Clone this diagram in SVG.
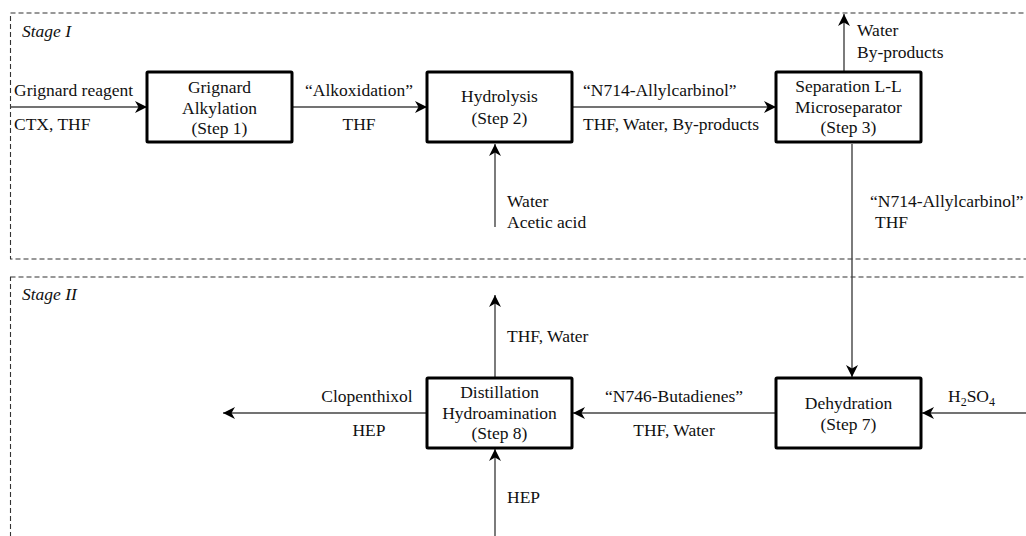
<svg xmlns="http://www.w3.org/2000/svg" width="1026" height="536" viewBox="0 0 1026 536">
  <style>
    text { font-family: "Liberation Serif", "Times New Roman", serif; font-size: 17.5px; fill: #111; }
    .stage { font-style: italic; }
    .mid { text-anchor: middle; }
    .frame { fill: none; stroke: #333; stroke-width: 1.1; stroke-dasharray: 5 3; }
    .box { fill: #fff; stroke: #000; stroke-width: 3; }
    .flow { fill: none; stroke: #444; stroke-width: 1.4; marker-end: url(#arrow); }
  </style>
  <defs>
    <marker id="arrow" markerUnits="userSpaceOnUse" markerWidth="16" markerHeight="14" viewBox="-13 -7 14 14" refX="0" refY="0" orient="auto">
      <path d="M0,0 L-12,-6 L-8.5,0 L-12,6 Z" fill="#000"/>
    </marker>
  </defs>

  <!-- stage frames -->
  <g id="stage-1">
    <rect class="frame" x="10.5" y="13" width="1030" height="246"/>
    <text class="stage" x="22" y="37">Stage I</text>
  </g>
  <g id="stage-2">
    <rect class="frame" x="10.5" y="277" width="1030" height="280"/>
    <text class="stage" x="22" y="300">Stage II</text>
  </g>

  <!-- connectors -->
  <g id="connectors">
    <line class="flow" x1="10" y1="107" x2="147" y2="107"/>
    <line class="flow" x1="292" y1="107" x2="427" y2="107"/>
    <line class="flow" x1="572" y1="107" x2="776" y2="107"/>
    <line class="flow" x1="495" y1="227" x2="495" y2="144"/>
    <line class="flow" x1="844" y1="72" x2="844" y2="14"/>
    <line class="flow" x1="852" y1="144" x2="852" y2="377"/>
    <line class="flow" x1="1026" y1="413" x2="922" y2="413"/>
    <line class="flow" x1="776" y1="413" x2="573" y2="413"/>
    <line class="flow" x1="427" y1="413" x2="223" y2="413"/>
    <line class="flow" x1="495" y1="378" x2="495" y2="295"/>
    <line class="flow" x1="495" y1="536" x2="495" y2="449"/>

    <text x="14" y="96">Grignard reagent</text>
    <text x="14" y="130">CTX, THF</text>
    <text class="mid" x="359" y="96">“Alkoxidation”</text>
    <text class="mid" x="359" y="130">THF</text>
    <text x="583" y="96">“N714-Allylcarbinol”</text>
    <text x="583" y="130">THF, Water, By-products</text>
    <text x="507" y="207">Water</text>
    <text x="507" y="228">Acetic acid</text>
    <text x="857" y="36">Water</text>
    <text x="857" y="58">By-products</text>
    <text x="870" y="207">“N714-Allylcarbinol”</text>
    <text x="875" y="228">THF</text>
    <text x="948" y="402">H<tspan font-size="12" dy="4">2</tspan><tspan dy="-4">SO</tspan><tspan font-size="12" dy="4">4</tspan></text>
    <text class="mid" x="674" y="402">“N746-Butadienes”</text>
    <text class="mid" x="674" y="436">THF, Water</text>
    <text class="mid" x="367" y="402">Clopenthixol</text>
    <text class="mid" x="369" y="436">HEP</text>
    <text x="507" y="342">THF, Water</text>
    <text x="507" y="503">HEP</text>
  </g>

  <!-- process steps -->
  <g id="step-1">
    <rect class="box" x="147" y="72" width="145" height="70" rx="1"/>
    <text class="mid" x="219.5" y="93">Grignard</text>
    <text class="mid" x="219.5" y="114">Alkylation</text>
    <text class="mid" x="219.5" y="134">(Step 1)</text>
  </g>
  <g id="step-2">
    <rect class="box" x="427" y="72" width="145" height="70" rx="1"/>
    <text class="mid" x="499.5" y="102">Hydrolysis</text>
    <text class="mid" x="499.5" y="124">(Step 2)</text>
  </g>
  <g id="step-3">
    <rect class="box" x="776" y="72" width="145" height="70" rx="1"/>
    <text class="mid" x="848.5" y="92">Separation L-L</text>
    <text class="mid" x="848.5" y="113">Microseparator</text>
    <text class="mid" x="848.5" y="133">(Step 3)</text>
  </g>
  <g id="step-7">
    <rect class="box" x="776" y="378" width="145" height="70" rx="1"/>
    <text class="mid" x="848.5" y="409">Dehydration</text>
    <text class="mid" x="848.5" y="430">(Step 7)</text>
  </g>
  <g id="step-8">
    <rect class="box" x="427" y="378" width="145" height="70" rx="1"/>
    <text class="mid" x="499.5" y="398">Distillation</text>
    <text class="mid" x="499.5" y="419">Hydroamination</text>
    <text class="mid" x="499.5" y="439">(Step 8)</text>
  </g>
</svg>
